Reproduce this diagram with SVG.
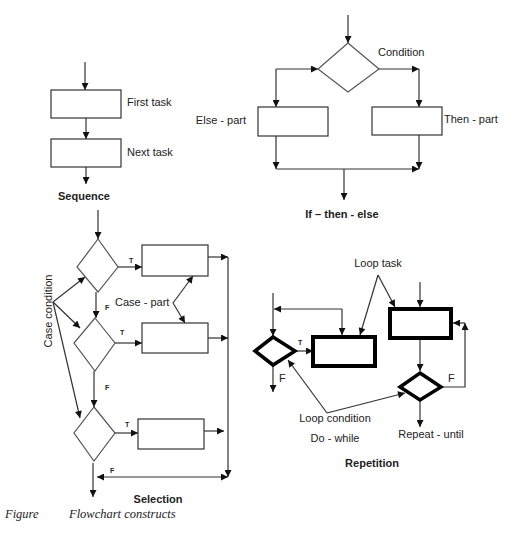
<svg xmlns="http://www.w3.org/2000/svg" width="527" height="534" viewBox="0 0 527 534">
<defs>
<marker id="ah" viewBox="0 0 10 10" refX="10" refY="5" markerWidth="11" markerHeight="7" markerUnits="userSpaceOnUse" orient="auto-start-reverse">
<path d="M0,0 L10,5 L0,10 z" fill="#111"/>
</marker>
<style>
.ln{fill:none;stroke:#333;stroke-width:1.2}
.ar{fill:none;stroke:#333;stroke-width:1.2;marker-end:url(#ah)}
.box{fill:#fff;stroke:#333;stroke-width:1.2}
.dia{fill:#fff;stroke:#555;stroke-width:1.2}
.tbox{fill:#fff;stroke:#000;stroke-width:4}
.tdia{fill:#fff;stroke:#000;stroke-width:3.5}
.t{font-family:"Liberation Sans",Arial,sans-serif;font-size:11px;fill:#222}
.b{font-family:"Liberation Sans",Arial,sans-serif;font-size:11px;font-weight:bold;fill:#222}
.s{font-family:"Liberation Sans",Arial,sans-serif;font-size:7px;font-weight:bold;fill:#222}
.cap{font-family:"Liberation Serif","Times New Roman",serif;font-size:12.5px;font-style:italic;fill:#222}
</style>
</defs>
<rect width="527" height="534" fill="#fff"/>

<g id="connectors">
<!-- sequence -->
<line class="ar" x1="85" y1="62" x2="85" y2="90"/>
<line class="ar" x1="86" y1="118" x2="86" y2="139"/>
<line class="ar" x1="86" y1="167" x2="86" y2="184"/>
<!-- if then else -->
<line class="ar" x1="348" y1="15" x2="348" y2="43"/>
<line class="ar" x1="276" y1="69" x2="318" y2="69"/>
<line class="ar" x1="276" y1="69" x2="276" y2="107"/>
<line class="ar" x1="379" y1="69" x2="419" y2="69"/>
<line class="ar" x1="419" y1="69" x2="419" y2="107"/>
<line class="ar" x1="276" y1="136" x2="276" y2="169"/>
<line class="ar" x1="419" y1="135" x2="419" y2="169"/>
<line class="ar" x1="276" y1="169" x2="419" y2="169"/>
<line class="ar" x1="344" y1="169" x2="344" y2="200"/>
<!-- selection -->
<line class="ar" x1="98" y1="210" x2="98" y2="239"/>
<line class="ar" x1="118" y1="267" x2="142" y2="267"/>
<line class="ar" x1="208" y1="257" x2="228" y2="257"/>
<line class="ar" x1="228" y1="257" x2="228" y2="477"/>
<line class="ar" x1="96" y1="292" x2="96" y2="318"/>
<line class="ar" x1="115" y1="343" x2="142" y2="343"/>
<line class="ar" x1="208" y1="338" x2="228" y2="338"/>
<line class="ar" x1="94" y1="371" x2="94" y2="407"/>
<line class="ar" x1="115" y1="433" x2="138" y2="433"/>
<line class="ar" x1="204" y1="431" x2="224" y2="431"/>
<line class="ar" x1="97" y1="477" x2="228" y2="477" marker-start="url(#ah)"/>
<line class="ar" x1="93" y1="463" x2="93" y2="497"/>
<line class="ar" x1="53" y1="302" x2="85" y2="277"/>
<line class="ar" x1="53" y1="302" x2="80" y2="328"/>
<line class="ar" x1="53" y1="302" x2="80" y2="418"/>
<line class="ar" x1="173" y1="303" x2="193" y2="276"/>
<line class="ar" x1="173" y1="303" x2="185" y2="323"/>
<!-- repetition -->
<line class="ar" x1="378" y1="275" x2="360" y2="335"/>
<line class="ar" x1="378" y1="275" x2="395" y2="307"/>
<line class="ar" x1="273" y1="293" x2="273" y2="336"/>
<line class="ar" x1="342" y1="309" x2="274" y2="309"/>
<line class="ar" x1="342" y1="309" x2="342" y2="335"/>
<line class="ar" x1="295" y1="351" x2="313" y2="351"/>
<line class="ar" x1="273" y1="366" x2="273" y2="392"/>
<line class="ar" x1="420" y1="282" x2="420" y2="307"/>
<line class="ar" x1="420" y1="340" x2="420" y2="371"/>
<polyline class="ar" points="441,387 465,387 465,323"/>
<line class="ar" x1="465" y1="323" x2="453" y2="323"/>
<line class="ar" x1="420" y1="401" x2="420" y2="427"/>
<line class="ar" x1="327" y1="413" x2="288" y2="360"/>
<line class="ar" x1="327" y1="413" x2="405" y2="393"/>
</g>

<g id="seq-first"><rect class="box" x="51" y="90" width="70" height="28"/><text class="t" x="127" y="106">First task</text></g>
<g id="seq-next"><rect class="box" x="51" y="139" width="70" height="28"/><text class="t" x="127" y="156">Next task</text></g>
<g id="seq-label"><text class="b" x="84" y="200" text-anchor="middle">Sequence</text></g>

<g id="ite-cond"><polygon class="dia" points="348,43 379,69 348,92 318,69"/><text class="t" x="378" y="56">Condition</text></g>
<g id="ite-else"><rect class="box" x="258" y="107" width="70" height="29"/><text class="t" x="246" y="124" text-anchor="end">Else - part</text></g>
<g id="ite-then"><rect class="box" x="372" y="107" width="70" height="28"/><text class="t" x="444" y="123">Then - part</text></g>
<g id="ite-label"><text class="b" x="342" y="218" text-anchor="middle">If – then - else</text></g>

<g id="sel-d1"><polygon class="dia" points="98,239 118,267 98,292 77,267"/><text class="s" x="129" y="263">T</text><text class="s" x="105" y="310">F</text></g>
<g id="sel-b1"><rect class="box" x="142" y="245" width="66" height="31"/></g>
<g id="sel-d2"><polygon class="dia" points="95,318 115,343 95,371 74,343"/><text class="s" x="120" y="335">T</text><text class="s" x="105" y="390">F</text></g>
<g id="sel-b2"><rect class="box" x="142" y="323" width="66" height="30"/></g>
<g id="sel-d3"><polygon class="dia" points="94,407 115,433 94,461 74,433"/><text class="s" x="125" y="427">T</text><text class="s" x="110" y="473">F</text></g>
<g id="sel-b3"><rect class="box" x="138" y="419" width="66" height="30"/></g>
<g id="sel-labels">
<text class="t" x="115" y="306">Case - part</text>
<text class="t" x="52" y="311" text-anchor="middle" transform="rotate(-90 52 311)">Case condition</text>
<text class="b" x="158" y="503" text-anchor="middle">Selection</text>
</g>

<g id="rep-dw"><polygon class="tdia" points="273,337 295,351 273,365 255,351"/><text class="s" x="298" y="345">T</text><text class="t" x="279" y="382">F</text></g>
<g id="rep-b1"><rect class="tbox" x="313" y="337" width="62" height="29"/></g>
<g id="rep-b2"><rect class="tbox" x="390" y="309" width="61" height="29"/></g>
<g id="rep-ru"><polygon class="tdia" points="420,373 441,387 420,400 400,387"/><text class="t" x="448" y="382">F</text></g>
<g id="rep-labels">
<text class="t" x="378" y="267" text-anchor="middle">Loop task</text>
<text class="t" x="335" y="422" text-anchor="middle">Loop condition</text>
<text class="t" x="335" y="442" text-anchor="middle">Do - while</text>
<text class="t" x="431" y="438" text-anchor="middle">Repeat - until</text>
<text class="b" x="372" y="467" text-anchor="middle">Repetition</text>
</g>

<g id="caption"><text class="cap" x="5" y="518">Figure</text><text class="cap" x="69" y="518">Flowchart constructs</text></g>
</svg>
